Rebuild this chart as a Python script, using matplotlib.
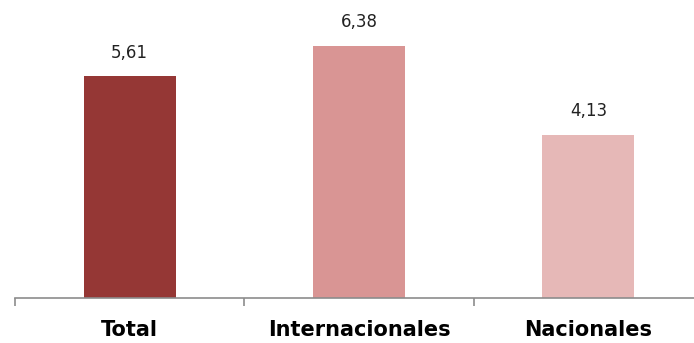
import matplotlib
matplotlib.use("Agg")
import matplotlib.pyplot as plt

# Datos
categorias = ["Total", "Internacionales", "Nacionales"]
valores = [5.61, 6.38, 4.13]
etiquetas = ["5,61", "6,38", "4,13"]
colores = ["#953735", "#D99594", "#E6B8B7"]

fig = plt.figure(figsize=(6.94, 3.43), dpi=100)
ax = fig.add_axes([15 / 694, 45 / 343, 688 / 694, 277 / 343])

x = range(len(categorias))
bars = ax.bar(x, valores, width=0.4, color=colores)

# Valores sobre las barras
for bar, txt in zip(bars, etiquetas):
    ax.text(bar.get_x() + bar.get_width() / 2, bar.get_height() + 0.36, txt,
            ha="center", va="bottom", fontsize=12, color="#222222")

ax.set_xlim(-0.5, 2.5)
ax.set_ylim(0, 7)

# Eje inferior con marcas entre categorías
for s in ["top", "left", "right"]:
    ax.spines[s].set_visible(False)
ax.spines["bottom"].set_color("#8c8c8c")
ax.spines["bottom"].set_linewidth(1.2)
ax.set_yticks([])
ax.set_xticks([-0.5, 0.5, 1.5, 2.5])
ax.set_xticklabels([])
ax.tick_params(axis="x", direction="out", length=6, width=1.2, color="#8c8c8c")

for i, c in enumerate(categorias):
    ax.text(i, -0.82, c, ha="center", va="center", fontsize=15,
            fontweight="bold", color="black")

fig.savefig("out.png", dpi=100)
